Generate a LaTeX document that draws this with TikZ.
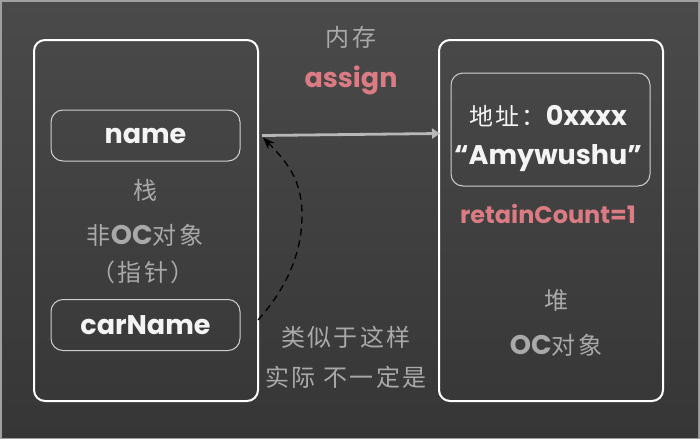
\documentclass[tikz,border=0pt]{standalone}
\usepackage{fontspec}
\setmainfont{Poppins}
\newfontfamily\cjk{Noto Sans CJK SC}[LetterSpace=10]
\usetikzlibrary{arrows.meta,calc}
\definecolor{bgtop}{HTML}{4A4A4A}
\definecolor{bgbot}{HTML}{363636}
\definecolor{frame}{HTML}{A0A0A0}
\definecolor{graytxt}{HTML}{A9A9A9}
\definecolor{pinktxt}{HTML}{DB7B83}
\definecolor{chalk}{HTML}{F4F4F4}
\definecolor{boxline}{HTML}{CFCFCF}
\definecolor{arrowgray}{HTML}{B8B8B8}
\begin{document}
\begin{tikzpicture}[x=1pt,y=-1pt,
  bigbox/.style={draw=white,line width=2pt,rounded corners=11pt,inner sep=0pt,outer sep=0pt,minimum width=224pt,minimum height=361pt},
  varbox/.style={draw=boxline,line width=1pt,rounded corners=12pt,inner sep=0pt,outer sep=0pt,minimum width=189pt,minimum height=51pt,text=chalk,font=\fontsize{27}{30}\selectfont\bfseries},
  objbox/.style={draw=boxline,line width=1pt,rounded corners=12pt,inner sep=0pt,outer sep=0pt,minimum width=199pt,minimum height=113pt},
  graylbl/.style={text=graytxt,inner sep=0pt,font=\fontsize{24}{28}\selectfont\cjk},
  pinklbl/.style={text=pinktxt,inner sep=0pt,font=\fontsize{27}{30}\selectfont\bfseries},
  chalklbl/.style={text=chalk,inner sep=0pt,font=\fontsize{27}{30}\selectfont\bfseries},
  assignarrow/.style={draw=arrowgray,line width=2.8pt,-{Triangle[length=8pt,width=10pt]}},
  guessarrow/.style={draw=black,line width=1.3pt,dash pattern=on 7pt off 5pt,-{Stealth[length=12pt,width=9pt]}}
]
% background
\fill[frame] (0,0) rectangle (700,439);
\shade[top color=bgtop,bottom color=bgbot] (2,2) rectangle (698,437);
\useasboundingbox (0,0) rectangle (700,439);

% stack box
\node[bigbox] (stack) at (146,220.5) {};
\node[varbox] (name) at (145.5,135.5) {name};
\node[varbox] (car) at (145.5,325) {carName};
\node[graylbl] (zhan) at (145,190) {栈};
\node[graylbl] (nonoc) at (145,235) {非{\fontspec{Poppins}\bfseries\fontsize{27}{30}\selectfont OC}对象};
\node[graylbl] (ptr) at (143,272) {（指针）};

% heap box
\node[bigbox] (heap) at (551,220.5) {};
\node[objbox] (obj) at (550.5,129.5) {};
\node[chalklbl] (addr) at (548,116) {{\cjk\fontsize{24}{26}\selectfont\mdseries 地址：}0xxxx};
\node[chalklbl] (str) at (548,158) {“Amywushu”};
\node[pinklbl,font=\fontsize{24}{26}\selectfont\bfseries] (rc) at (548,214) {retainCount=1};
\node[graylbl] (dui) at (556,300) {堆};
\node[graylbl] (oc) at (556,345) {{\fontspec{Poppins}\bfseries\fontsize{27}{30}\selectfont OC}对象};

% middle labels
\node[graylbl] (mem) at (351,37) {内存};
\node[pinklbl] (assign) at (351,80) {assign};
\node[graylbl] (like) at (346,337) {类似于这样};
\node[graylbl] (real) at (346,377) {实际 不一定是};

% connectors
\coordinate (a1) at ($(stack.east |- name.east)+(4,0)$);
\coordinate (a2) at ($(heap.west |- name.east)+(1,-2)$);
\draw[assignarrow] (a1) -- (a2);

\coordinate (d1) at ($(stack.east |- car.east)+(0,-5)$);
\coordinate (d2) at ($(stack.east |- name.east)+(5,2)$);
\draw[guessarrow] (d1) .. controls (285,290) and (302,255) .. (302,215)
  .. controls (302,180) and (287,162) .. (d2);
\end{tikzpicture}
\end{document}
